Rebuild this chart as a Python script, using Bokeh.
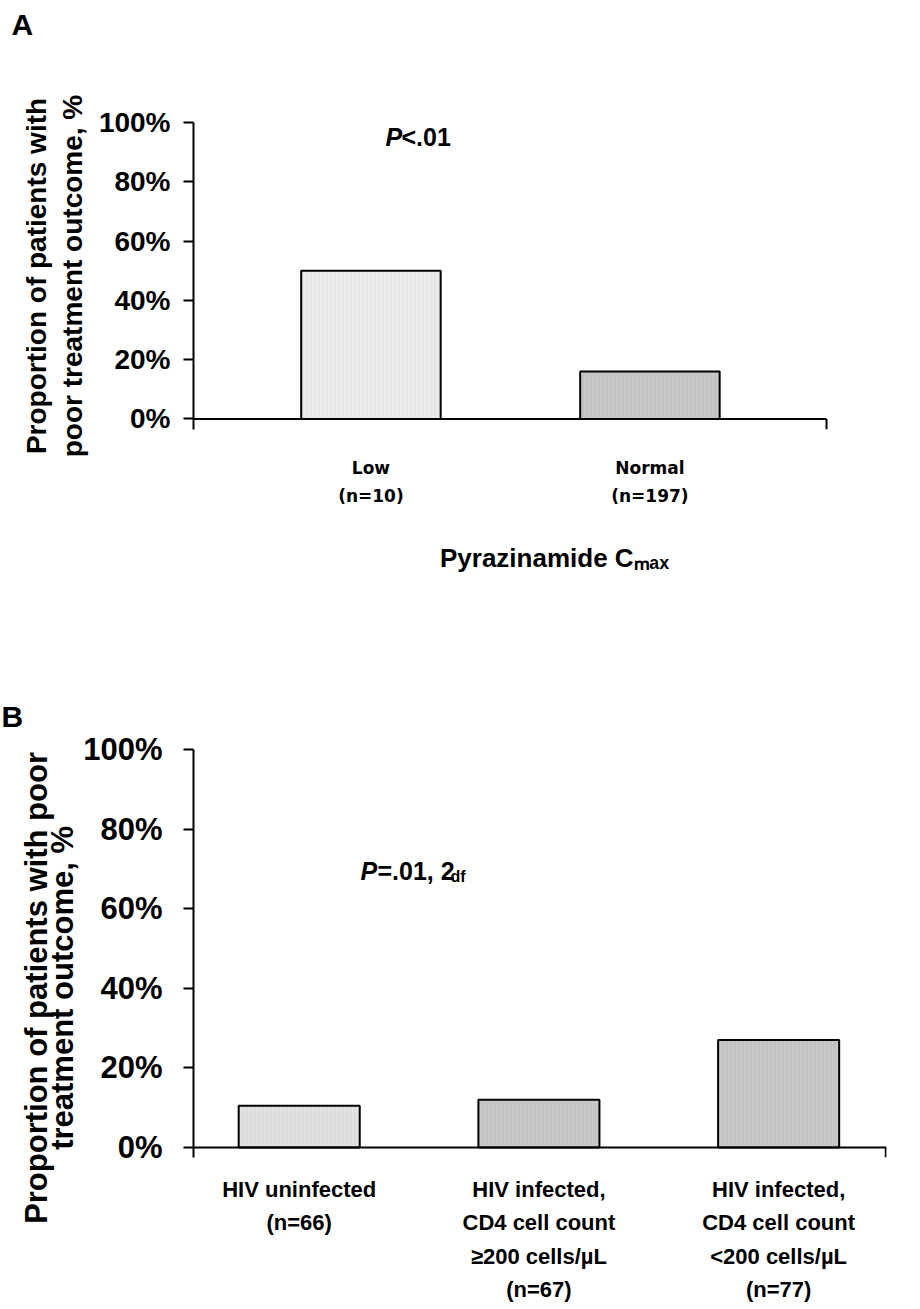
from bokeh.plotting import figure
from bokeh.models import Range1d, FixedTicker, Label, Title
from bokeh.layouts import column
from bokeh.embed import file_html
from bokeh.resources import INLINE

# ---------------- data ----------------
a_categories = ["Low\n(n=10)", "Normal\n(n=197)"]
a_values = [50, 16]
a_colors = ["#ececec", "#c8c8c8"]
a_hatch = ["#dedede", "#bcbcbc"]
a_xlabel = "Pyrazinamide C\u2098\u2090\u2093"
a_ylabel = ["Proportion of patients with", "poor treatment outcome, %"]

b_categories = ["HIV uninfected\n(n=66)",
                "HIV infected,\nCD4 cell count\n\u2265200 cells/\u00b5L\n(n=67)",
                "HIV infected,\nCD4 cell count\n<200 cells/\u00b5L\n(n=77)"]
b_values = [10.5, 12, 27]
b_colors = ["#e2e2e2", "#c8c8c8", "#c8c8c8"]
b_hatch = ["#d4d4d4", "#bcbcbc", "#bcbcbc"]
b_ylabel = ["Proportion of patients with poor", "treatment outcome, %"]

y_ticks = [0, 20, 40, 60, 80, 100]
y_tick_labels = ["0%", "20%", "40%", "60%", "80%", "100%"]

FONT = "Liberation Sans"
W = 912
NBSP = "\u00a0"


def base_fig(height, xr, yr, mt, mb):
    p = figure(width=W, height=height, x_range=Range1d(*xr), y_range=Range1d(*yr),
               output_backend="svg", toolbar_location=None, title=None,
               min_border_left=193, min_border_right=W - 886,
               min_border_top=mt, min_border_bottom=mb)
    p.outline_line_color = None
    p.xgrid.visible = False
    p.ygrid.visible = False
    return p


def style_y(p, size, standoff, label, label_size, label_lh, label_standoff):
    ax = p.yaxis[0]
    ax.ticker = FixedTicker(ticks=y_ticks)
    ax.major_label_overrides = dict(zip(y_ticks, y_tick_labels))
    ax.minor_tick_line_color = None
    ax.major_tick_in = 0
    ax.major_tick_out = 10
    ax.major_tick_line_width = 2
    ax.axis_line_width = 2
    ax.major_label_text_font = FONT
    ax.major_label_text_font_style = "bold"
    ax.major_label_text_font_size = size
    ax.major_label_text_color = "black"
    ax.major_label_standoff = standoff
    ax.axis_label = label
    ax.axis_label_text_font = FONT
    ax.axis_label_text_font_style = "bold"
    ax.axis_label_text_font_size = label_size
    ax.axis_label_text_line_height = label_lh
    ax.axis_label_text_color = "black"
    ax.axis_label_standoff = label_standoff


def style_x(p, xs, cats, font, size, lh, standoff):
    ax = p.xaxis[0]
    ax.ticker = FixedTicker(ticks=xs)
    ax.major_label_overrides = dict(zip(xs, cats))
    ax.minor_tick_line_color = None
    ax.major_tick_line_color = None
    ax.axis_line_color = None
    ax.major_label_text_font = font
    ax.major_label_text_font_style = "bold"
    ax.major_label_text_font_size = size
    ax.major_label_text_line_height = lh
    ax.major_label_text_color = "black"
    ax.major_label_standoff = standoff


def add_panel_letter(p, text, offset, gap):
    # spacer panel between the frame and the panel letter
    p.add_layout(Title(text=NBSP, text_font_size="1px", standoff=gap), "above")
    p.add_layout(Title(text=text, text_font=FONT, text_font_style="bold", text_font_size="30px",
                       text_color="black", align="left", offset=offset, standoff=0), "above")


def add_label(p, x, y, text, size, style="bold", baseline="middle"):
    p.add_layout(Label(x=x, y=y, x_units="data", y_units="data", text=text,
                       text_font=FONT, text_font_size=size, text_font_style=style,
                       text_align="left", text_baseline=baseline, text_color="black"))


# ---------------- panel A ----------------
A_XR = (0.364, 2.848)
A_AXIS_END = 2.633
A_YR = (-3.55, 100)
pa = base_fig(645, A_XR, A_YR, 122, 645 - 429)
xa = list(range(1, len(a_values) + 1))
pa.vbar(x=xa, top=a_values, bottom=0, width=0.5, fill_color=a_colors, line_color="black",
        line_width=2, hatch_pattern="|", hatch_color=a_hatch, hatch_scale=4, hatch_weight=1)
# category axis baseline and its closing tick
pa.segment(x0=[A_XR[0]], y0=[0], x1=[A_AXIS_END], y1=[0], line_color="black", line_width=2)
pa.segment(x0=[A_AXIS_END], y0=[0], x1=[A_AXIS_END], y1=[A_YR[0]], line_color="black", line_width=2)
style_y(pa, "28px", 13, "\n".join(a_ylabel), "28px", 1.16, 8)
style_x(pa, xa, a_categories, "DejaVu Sans", "17px", 1.4, 22)
pa.xaxis[0].axis_label = NBSP * 4 + a_xlabel
pa.xaxis[0].axis_label_text_font = FONT
pa.xaxis[0].axis_label_text_font_style = "bold"
pa.xaxis[0].axis_label_text_font_size = "26px"
pa.xaxis[0].axis_label_text_color = "black"
pa.xaxis[0].axis_label_standoff = 34
add_panel_letter(pa, "A", 11 - 193, 79)


def ax_(sx):
    return A_XR[0] + (sx - 193) / 279.0


def ay_(sy):
    return (418.5 - sy) / 2.965


add_label(pa, ax_(385), ay_(137), "P", "25px", style="bold italic")
add_label(pa, ax_(401), ay_(137), "<.01", "25px")

# ---------------- panel B ----------------
B_XR = (0.559, 3.450)
B_YR = (-2.5, 100)
pb = base_fig(664, B_XR, B_YR, 749 - 645, 1309 - 1157)
xb = list(range(1, len(b_values) + 1))
pb.vbar(x=xb, top=b_values, bottom=0, width=0.505, fill_color=b_colors, line_color="black",
        line_width=2, hatch_pattern="|", hatch_color=b_hatch, hatch_scale=4, hatch_weight=1)
pb.segment(x0=[B_XR[0]], y0=[0], x1=[B_XR[1]], y1=[0], line_color="black", line_width=2)
pb.segment(x0=[B_XR[1] - 0.003], y0=[0], x1=[B_XR[1] - 0.003], y1=[B_YR[0]],
           line_color="black", line_width=2)
# the label sits lower than the axis centre in the original: pad the top end of each line
style_y(pb, "31px", 21, "\n".join(s + NBSP * 8 for s in b_ylabel), "31px", 0.75, 0)
style_x(pb, xb, b_categories, FONT, "22px", 1.34, 13)
add_panel_letter(pb, "B", 1 - 193, 14)


def bx_(sx):
    return B_XR[0] + (sx - 193) / 239.7


def by_(sy):
    return (1147 - sy) / 3.98


add_label(pb, bx_(360), by_(870), "P", "25px", style="bold italic")
add_label(pb, bx_(377), by_(870), "=.01, 2", "25px")
add_label(pb, bx_(450), by_(876), "df", "16px")

layout = column(pa, pb, spacing=0)
open("out.html", "w").write(file_html(layout, INLINE))
